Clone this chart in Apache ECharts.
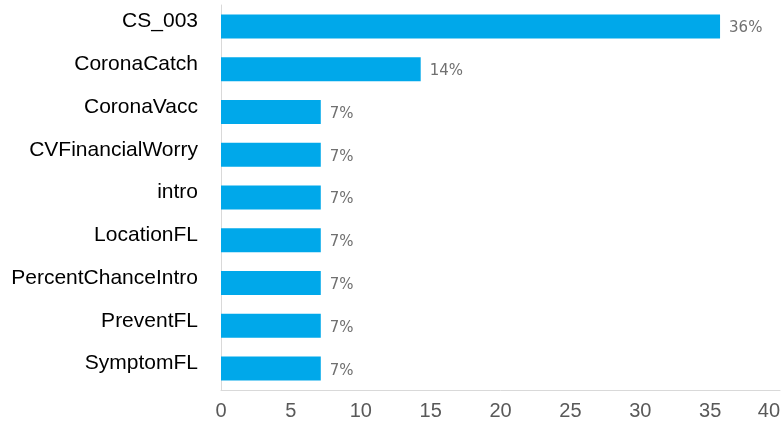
<!DOCTYPE html>
<html><head><meta charset="utf-8">
<script src="https://cdn.jsdelivr.net/npm/echarts@6/dist/echarts.min.js"></script>
<style>html,body{margin:0;padding:0;background:#fff}#c{width:784px;height:425px}</style>
</head><body><div id="c"></div>
<script>
var categories = ["CS_003","CoronaCatch","CoronaVacc","CVFinancialWorry","intro","LocationFL","PercentChanceIntro","PreventFL","SymptomFL"];
var values = [35.71,14.29,7.14,7.14,7.14,7.14,7.14,7.14,7.14];
var xTicks = [0,5,10,15,20,25,30,35,40];

var chart = echarts.init(document.getElementById('c'), null, {renderer:'canvas'});
chart.setOption({
  animation:false,
  grid:{left:221,right:4,top:5,bottom:35,containLabel:false},
  xAxis:{type:'value',min:xTicks[0],max:xTicks[xTicks.length-1],interval:5,
    axisLine:{show:true,lineStyle:{color:'#d9d9d9',width:1}},
    axisTick:{show:false},splitLine:{show:false},
    axisLabel:{color:'#595959',fontSize:20,fontFamily:'Liberation Sans, Arial',margin:11,alignMaxLabel:'right'}},
  yAxis:{type:'category',data:categories,inverse:true,
    axisLine:{show:true,lineStyle:{color:'#d9d9d9',width:1}},
    axisTick:{show:false},
    axisLabel:{margin:23,
      formatter:function(v){return '{a|'+v+'}';},
      rich:{a:{color:'#000000',fontSize:21,fontFamily:'Liberation Sans, Arial',padding:[0,0,10,0]}}}},
  series:[{type:'bar',data:values,barWidth:24,
    itemStyle:{color:'#00a8ea'},
    label:{show:true,position:'right',distance:9,offset:[0,2],color:'#707070',fontSize:15,fontFamily:'DejaVu Sans, Verdana',
      formatter:function(p){return Math.round(p.value)+'%';}}}]
});
</script></body></html>
